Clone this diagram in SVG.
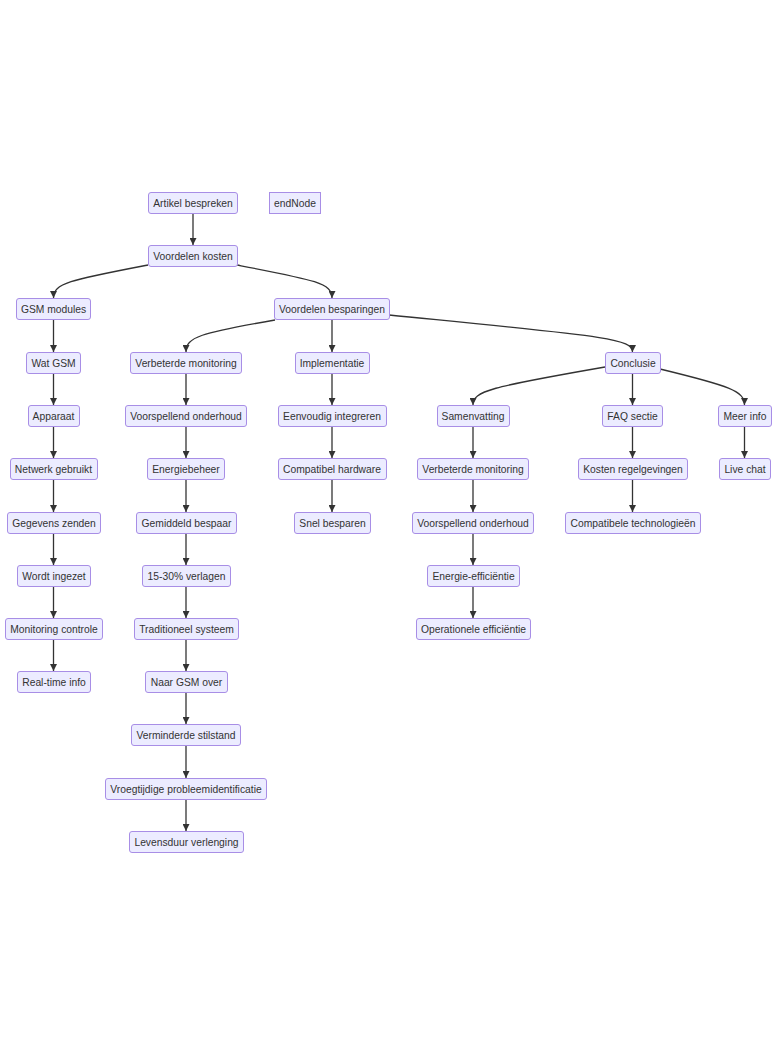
<svg xmlns="http://www.w3.org/2000/svg" width="784" height="1045" viewBox="0 0 784 1045">
<style>
.n rect{fill:#ECECFF;stroke:#A88EE6;stroke-width:1}
.n text{font-family:"Liberation Sans",Arial,sans-serif;font-size:10.3px;fill:#333;text-anchor:middle;dominant-baseline:central}
.e path{fill:none;stroke:#333;stroke-width:1.3;marker-end:url(#arr)}
</style>
<defs>
<marker id="arr" viewBox="0 0 10 10" refX="10" refY="5" markerUnits="userSpaceOnUse" markerWidth="7" markerHeight="7" orient="auto">
<path d="M0,0 L10,5 L0,10 z" fill="#333"/>
</marker>
</defs>
<rect width="784" height="1045" fill="#fff"/>
<g class="e" id="edges">
<path d="M193,213 L193,245"/>
<path d="M148,265 C70,280 53.5,283 53.5,298"/>
<path d="M237,265 C315,280 332,283 332,298"/>
<path d="M53.5,319 L53.5,352"/>
<path d="M53.5,373 L53.5,405"/>
<path d="M53.5,426 L53.5,458"/>
<path d="M53.5,479 L53.5,512"/>
<path d="M53.5,533 L53.5,565"/>
<path d="M53.5,586 L53.5,618"/>
<path d="M53.5,639 L53.5,671"/>
<path d="M275,320 C200,333 186,337 186,352"/>
<path d="M332,320 L332,352"/>
<path d="M389,315 C600,336 632.5,338 632.5,352"/>
<path d="M186,373 L186,405"/>
<path d="M186,426 L186,458"/>
<path d="M186,479 L186,512"/>
<path d="M186,533 L186,565"/>
<path d="M186,586 L186,618"/>
<path d="M186,639 L186,671"/>
<path d="M186,692 L186,724"/>
<path d="M186,745 L186,778"/>
<path d="M186,799 L186,831"/>
<path d="M332,373 L332,405"/>
<path d="M332,426 L332,458"/>
<path d="M332,479 L332,512"/>
<path d="M605,367 C490,387 473,391 473,405"/>
<path d="M632.5,373 L632.5,405"/>
<path d="M660,369 C730,386 744.5,391 744.5,405"/>
<path d="M473,426 L473,458"/>
<path d="M473,479 L473,512"/>
<path d="M473,533 L473,565"/>
<path d="M473,586 L473,618"/>
<path d="M632.5,426 L632.5,458"/>
<path d="M632.5,479 L632.5,512"/>
<path d="M744.5,426 L744.5,458"/>
</g>
<g class="n" id="n_artikel"><rect x="148.5" y="192.5" width="89" height="21" rx="2.5"/><text x="193" y="203">Artikel bespreken</text></g>
<g class="n" id="n_endnode"><rect x="269.5" y="192.5" width="51" height="21"/><text x="295" y="203">endNode</text></g>
<g class="n" id="n_vk"><rect x="148.5" y="245.5" width="89" height="21" rx="2.5"/><text x="193" y="256">Voordelen kosten</text></g>
<g class="n" id="n_gsm"><rect x="16.5" y="298.5" width="74" height="21" rx="2.5"/><text x="53.5" y="309">GSM modules</text></g>
<g class="n" id="n_vb"><rect x="274.5" y="298.5" width="115" height="21" rx="2.5"/><text x="332" y="309">Voordelen besparingen</text></g>
<g class="n" id="n_watgsm"><rect x="26.5" y="352.5" width="54" height="21" rx="2.5"/><text x="53.5" y="363">Wat GSM</text></g>
<g class="n" id="n_vm"><rect x="130.5" y="352.5" width="111" height="21" rx="2.5"/><text x="186" y="363">Verbeterde monitoring</text></g>
<g class="n" id="n_impl"><rect x="295.5" y="352.5" width="74" height="21" rx="2.5"/><text x="332" y="363">Implementatie</text></g>
<g class="n" id="n_conc"><rect x="605.5" y="352.5" width="55" height="21" rx="2.5"/><text x="633" y="363">Conclusie</text></g>
<g class="n" id="n_app"><rect x="28.5" y="405.5" width="51" height="21" rx="2.5"/><text x="53.5" y="416">Apparaat</text></g>
<g class="n" id="n_vo"><rect x="125.5" y="405.5" width="121" height="21" rx="2.5"/><text x="186" y="416">Voorspellend onderhoud</text></g>
<g class="n" id="n_ei"><rect x="278.5" y="405.5" width="108" height="21" rx="2.5"/><text x="332" y="416">Eenvoudig integreren</text></g>
<g class="n" id="n_sam"><rect x="437.5" y="405.5" width="72" height="21" rx="2.5"/><text x="473" y="416">Samenvatting</text></g>
<g class="n" id="n_faq"><rect x="602.5" y="405.5" width="60" height="21" rx="2.5"/><text x="632.5" y="416">FAQ sectie</text></g>
<g class="n" id="n_meer"><rect x="718.5" y="405.5" width="53" height="21" rx="2.5"/><text x="745" y="416">Meer info</text></g>
<g class="n" id="n_netw"><rect x="10.5" y="458.5" width="87" height="21" rx="2.5"/><text x="53.5" y="469">Netwerk gebruikt</text></g>
<g class="n" id="n_eb"><rect x="147.5" y="458.5" width="77" height="21" rx="2.5"/><text x="186" y="469">Energiebeheer</text></g>
<g class="n" id="n_ch"><rect x="278.5" y="458.5" width="108" height="21" rx="2.5"/><text x="332" y="469">Compatibel hardware</text></g>
<g class="n" id="n_vm2"><rect x="417.5" y="458.5" width="111" height="21" rx="2.5"/><text x="473" y="469">Verbeterde monitoring</text></g>
<g class="n" id="n_kr"><rect x="578.5" y="458.5" width="109" height="21" rx="2.5"/><text x="633" y="469">Kosten regelgevingen</text></g>
<g class="n" id="n_live"><rect x="719.5" y="458.5" width="51" height="21" rx="2.5"/><text x="745" y="469">Live chat</text></g>
<g class="n" id="n_gz"><rect x="7.5" y="512.5" width="93" height="21" rx="2.5"/><text x="54" y="523">Gegevens zenden</text></g>
<g class="n" id="n_gb"><rect x="136.5" y="512.5" width="100" height="21" rx="2.5"/><text x="186.5" y="523">Gemiddeld bespaar</text></g>
<g class="n" id="n_sb"><rect x="294.5" y="512.5" width="76" height="21" rx="2.5"/><text x="332.5" y="523">Snel besparen</text></g>
<g class="n" id="n_vo2"><rect x="412.5" y="512.5" width="121" height="21" rx="2.5"/><text x="473" y="523">Voorspellend onderhoud</text></g>
<g class="n" id="n_ct"><rect x="565.5" y="512.5" width="135" height="21" rx="2.5"/><text x="633" y="523">Compatibele technologieën</text></g>
<g class="n" id="n_wi"><rect x="17.5" y="565.5" width="73" height="21" rx="2.5"/><text x="54" y="576">Wordt ingezet</text></g>
<g class="n" id="n_1530"><rect x="142.5" y="565.5" width="88" height="21" rx="2.5"/><text x="186.5" y="576">15-30% verlagen</text></g>
<g class="n" id="n_ee"><rect x="427.5" y="565.5" width="92" height="21" rx="2.5"/><text x="473.5" y="576">Energie-efficiëntie</text></g>
<g class="n" id="n_mc"><rect x="5.5" y="618.5" width="97" height="21" rx="2.5"/><text x="54" y="629">Monitoring controle</text></g>
<g class="n" id="n_ts"><rect x="134.5" y="618.5" width="104" height="21" rx="2.5"/><text x="186.5" y="629">Traditioneel systeem</text></g>
<g class="n" id="n_oe"><rect x="416.5" y="618.5" width="114" height="21" rx="2.5"/><text x="473.5" y="629">Operationele efficiëntie</text></g>
<g class="n" id="n_rti"><rect x="17.5" y="671.5" width="73" height="21" rx="2.5"/><text x="54" y="682">Real-time info</text></g>
<g class="n" id="n_ngo"><rect x="145.5" y="671.5" width="82" height="21" rx="2.5"/><text x="186.5" y="682">Naar GSM over</text></g>
<g class="n" id="n_vs"><rect x="131.5" y="724.5" width="109" height="21" rx="2.5"/><text x="186" y="735">Verminderde stilstand</text></g>
<g class="n" id="n_vp"><rect x="105.5" y="778.5" width="161" height="21" rx="2.5"/><text x="186" y="789">Vroegtijdige probleemidentificatie</text></g>
<g class="n" id="n_lv"><rect x="129.5" y="831.5" width="114" height="21" rx="2.5"/><text x="186.5" y="842">Levensduur verlenging</text></g>
</svg>
